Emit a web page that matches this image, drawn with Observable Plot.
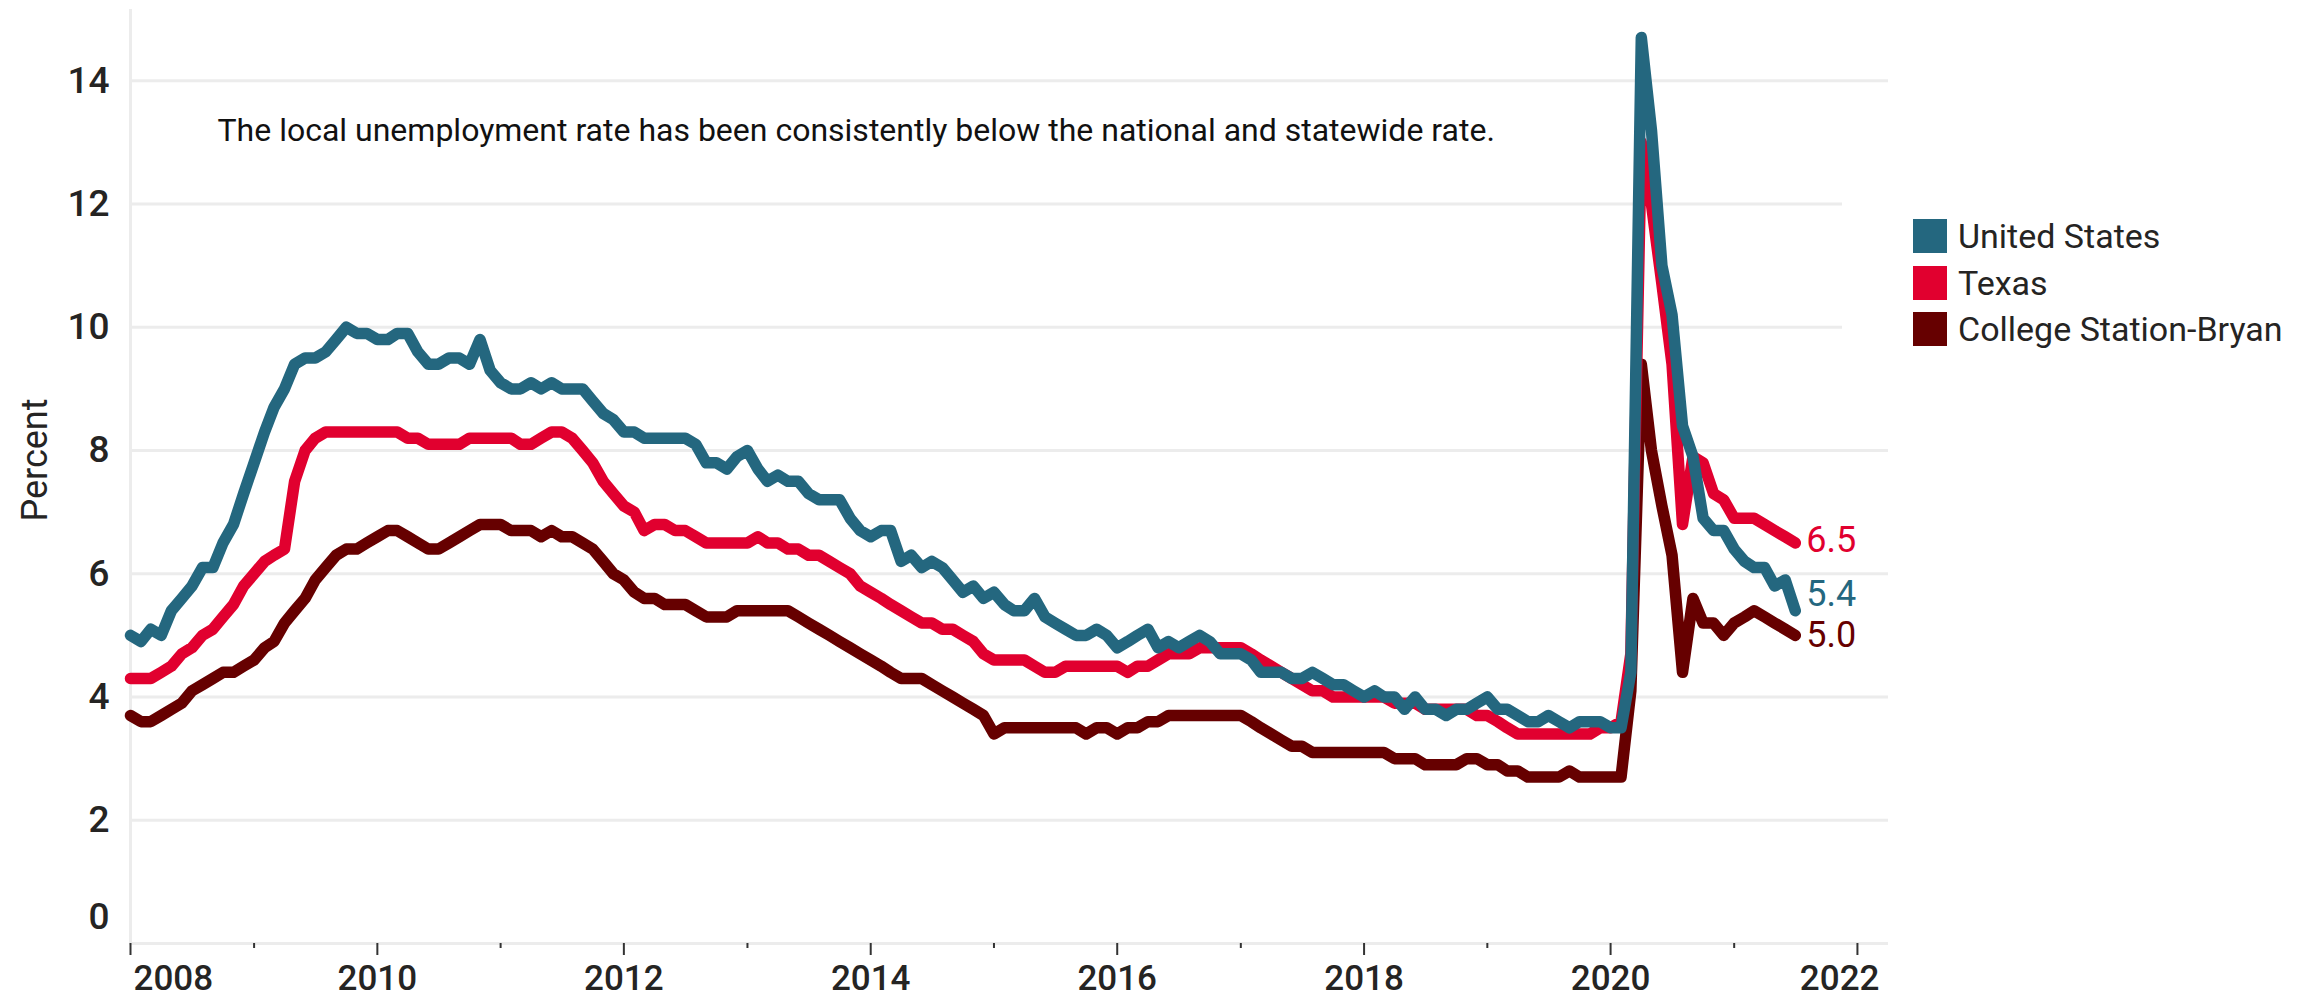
<!DOCTYPE html>
<html>
<head>
<meta charset="utf-8">
<script src="https://cdn.jsdelivr.net/npm/d3@7"></script>
<script src="https://cdn.jsdelivr.net/npm/@observablehq/plot@0.6"></script>
<style>
  html, body { margin: 0; padding: 0; background: #fff; }
  #wrap { position: relative; width: 2321px; height: 1002px; font-family: Roboto, "Noto Sans", sans-serif; }
  #legend { position: absolute; left: 1842px; top: 150px; width: 479px; height: 250px; background: #fff; }
  .row { position: absolute; left: 71px; display: flex; align-items: center; height: 34px; }
  .sw { width: 34px; height: 34px; margin-right: 11px; }
  .lab { font-size: 34px; color: #252423; white-space: nowrap; }
</style>
</head>
<body>
<div id="wrap"><div id="chart"></div><div id="legend"></div></div>
<script>
// ---- data (monthly, Jan 2008 – Jul 2021) ----
const startYear = 2008;
const seriesNames = ["United States", "Texas", "College Station-Bryan"];
const seriesColors = ["#24677F", "#E1002F", "#660000"];

const usRate = [
  5.0, 4.9, 5.1, 5.0, 5.4, 5.6, 5.8, 6.1, 6.1, 6.5, 6.8, 7.3,
  7.8, 8.3, 8.7, 9.0, 9.4, 9.5, 9.5, 9.6, 9.8, 10.0, 9.9, 9.9,
  9.8, 9.8, 9.9, 9.9, 9.6, 9.4, 9.4, 9.5, 9.5, 9.4, 9.8, 9.3,
  9.1, 9.0, 9.0, 9.1, 9.0, 9.1, 9.0, 9.0, 9.0, 8.8, 8.6, 8.5,
  8.3, 8.3, 8.2, 8.2, 8.2, 8.2, 8.2, 8.1, 7.8, 7.8, 7.7, 7.9,
  8.0, 7.7, 7.5, 7.6, 7.5, 7.5, 7.3, 7.2, 7.2, 7.2, 6.9, 6.7,
  6.6, 6.7, 6.7, 6.2, 6.3, 6.1, 6.2, 6.1, 5.9, 5.7, 5.8, 5.6,
  5.7, 5.5, 5.4, 5.4, 5.6, 5.3, 5.2, 5.1, 5.0, 5.0, 5.1, 5.0,
  4.8, 4.9, 5.0, 5.1, 4.8, 4.9, 4.8, 4.9, 5.0, 4.9, 4.7, 4.7,
  4.7, 4.6, 4.4, 4.4, 4.4, 4.3, 4.3, 4.4, 4.3, 4.2, 4.2, 4.1,
  4.0, 4.1, 4.0, 4.0, 3.8, 4.0, 3.8, 3.8, 3.7, 3.8, 3.8, 3.9,
  4.0, 3.8, 3.8, 3.7, 3.6, 3.6, 3.7, 3.6, 3.5, 3.6, 3.6, 3.6,
  3.5, 3.5, 4.4, 14.7, 13.2, 11.0, 10.2, 8.4, 7.9, 6.9, 6.7, 6.7,
  6.4, 6.2, 6.1, 6.1, 5.8, 5.9, 5.4
];

const texasRate = [
  4.3, 4.3, 4.3, 4.4, 4.5, 4.7, 4.8, 5.0, 5.1, 5.3, 5.5, 5.8,
  6.0, 6.2, 6.3, 6.4, 7.5, 8.0, 8.2, 8.3, 8.3, 8.3, 8.3, 8.3,
  8.3, 8.3, 8.3, 8.2, 8.2, 8.1, 8.1, 8.1, 8.1, 8.2, 8.2, 8.2,
  8.2, 8.2, 8.1, 8.1, 8.2, 8.3, 8.3, 8.2, 8.0, 7.8, 7.5, 7.3,
  7.1, 7.0, 6.7, 6.8, 6.8, 6.7, 6.7, 6.6, 6.5, 6.5, 6.5, 6.5,
  6.5, 6.6, 6.5, 6.5, 6.4, 6.4, 6.3, 6.3, 6.2, 6.1, 6.0, 5.8,
  5.7, 5.6, 5.5, 5.4, 5.3, 5.2, 5.2, 5.1, 5.1, 5.0, 4.9, 4.7,
  4.6, 4.6, 4.6, 4.6, 4.5, 4.4, 4.4, 4.5, 4.5, 4.5, 4.5, 4.5,
  4.5, 4.4, 4.5, 4.5, 4.6, 4.7, 4.7, 4.7, 4.8, 4.8, 4.8, 4.8,
  4.8, 4.7, 4.6, 4.5, 4.4, 4.3, 4.2, 4.1, 4.1, 4.0, 4.0, 4.0,
  4.0, 4.0, 4.0, 3.9, 3.9, 3.9, 3.8, 3.8, 3.8, 3.8, 3.8, 3.7,
  3.7, 3.6, 3.5, 3.4, 3.4, 3.4, 3.4, 3.4, 3.4, 3.4, 3.4, 3.5,
  3.5, 3.6, 4.7, 13.0, 12.0, 10.7, 9.4, 6.8, 7.9, 7.8, 7.3, 7.2,
  6.9, 6.9, 6.9, 6.8, 6.7, 6.6, 6.5
];

const csbRate = [
  3.7, 3.6, 3.6, 3.7, 3.8, 3.9, 4.1, 4.2, 4.3, 4.4, 4.4, 4.5,
  4.6, 4.8, 4.9, 5.2, 5.4, 5.6, 5.9, 6.1, 6.3, 6.4, 6.4, 6.5,
  6.6, 6.7, 6.7, 6.6, 6.5, 6.4, 6.4, 6.5, 6.6, 6.7, 6.8, 6.8,
  6.8, 6.7, 6.7, 6.7, 6.6, 6.7, 6.6, 6.6, 6.5, 6.4, 6.2, 6.0,
  5.9, 5.7, 5.6, 5.6, 5.5, 5.5, 5.5, 5.4, 5.3, 5.3, 5.3, 5.4,
  5.4, 5.4, 5.4, 5.4, 5.4, 5.3, 5.2, 5.1, 5.0, 4.9, 4.8, 4.7,
  4.6, 4.5, 4.4, 4.3, 4.3, 4.3, 4.2, 4.1, 4.0, 3.9, 3.8, 3.7,
  3.4, 3.5, 3.5, 3.5, 3.5, 3.5, 3.5, 3.5, 3.5, 3.4, 3.5, 3.5,
  3.4, 3.5, 3.5, 3.6, 3.6, 3.7, 3.7, 3.7, 3.7, 3.7, 3.7, 3.7,
  3.7, 3.6, 3.5, 3.4, 3.3, 3.2, 3.2, 3.1, 3.1, 3.1, 3.1, 3.1,
  3.1, 3.1, 3.1, 3.0, 3.0, 3.0, 2.9, 2.9, 2.9, 2.9, 3.0, 3.0,
  2.9, 2.9, 2.8, 2.8, 2.7, 2.7, 2.7, 2.7, 2.8, 2.7, 2.7, 2.7,
  2.7, 2.7, 4.1, 9.4, 8.0, 7.1, 6.3, 4.4, 5.6, 5.2, 5.2, 5.0,
  5.2, 5.3, 5.4, 5.3, 5.2, 5.1, 5.0
];

const yTicks = [0, 2, 4, 6, 8, 10, 12, 14];
const majorYears = [2008, 2010, 2012, 2014, 2016, 2018, 2020, 2022];
const minorYears = [2009, 2011, 2013, 2015, 2017, 2019, 2021];
const annotation = "The local unemployment rate has been consistently below the national and statewide rate.";
const yLabel = "Percent";

// ---- build table ----
const monthDate = i => new Date(Date.UTC(startYear, i, 1));
const yearDate = y => new Date(Date.UTC(y, 0, 1));
const bySeries = {
  "United States": usRate,
  "Texas": texasRate,
  "College Station-Bryan": csbRate
};
// draw order: College Station-Bryan, Texas, United States (on top)
const drawOrder = ["College Station-Bryan", "Texas", "United States"];
const rows = drawOrder.flatMap(s => bySeries[s].map((v, i) => ({series: s, date: monthDate(i), value: v})));
const rowsOf = s => rows.filter(d => d.series === s);

const fmtYear = d3.utcFormat("%Y");
const gridColor = "#ececec";
const textColor = "#252423";
const colorOf = s => seriesColors[seriesNames.indexOf(s)];

const endLabel = (s, dy) => Plot.text(rowsOf(s), Plot.selectLast({
  x: "date", y: "value", text: d => d.value.toFixed(1),
  fill: colorOf(s), textAnchor: "start", lineAnchor: "middle", dx: 11, dy, fontSize: 36
}));

const yTickText = {tickSize: 0, tickPadding: 21, fontSize: 37, fontWeight: 500, fill: textColor, label: null, tickFormat: d => String(d)};
const xLabelText = {x: d => d, text: fmtYear, frameAnchor: "bottom", lineAnchor: "middle", dy: 35, fontSize: 35, fontWeight: 500, fill: textColor};

const chart = Plot.plot({
  width: 2321,
  height: 1002,
  marginLeft: 130,
  marginRight: 433,
  marginTop: 10,
  marginBottom: 59,
  style: {fontFamily: "Roboto, 'Noto Sans', sans-serif", background: "#fff", color: textColor},
  x: {type: "utc", domain: [yearDate(2008), new Date(Date.UTC(2022, 3, 3))], label: null},
  y: {domain: [0, 15.14], label: null},
  color: {domain: seriesNames, range: seriesColors},
  marks: [
    Plot.gridY(yTicks, {stroke: gridColor, strokeWidth: 3, strokeOpacity: 1}),
    Plot.frame({anchor: "left", stroke: gridColor, strokeWidth: 3}),
    Plot.axisY(yTicks.slice(1), yTickText),
    Plot.axisY(yTicks.slice(0, 1), {...yTickText, dy: -26}),
    Plot.axisX(majorYears.map(yearDate), {tickSize: 12, tickFormat: () => "", stroke: "#333", strokeWidth: 2, label: null}),
    Plot.axisX(minorYears.map(yearDate), {tickSize: 5, tickFormat: () => "", stroke: "#333", strokeWidth: 2, label: null}),
    Plot.text(majorYears.slice(1, -1).map(yearDate), xLabelText),
    Plot.text(majorYears.slice(0, 1).map(yearDate), {...xLabelText, dx: 3, textAnchor: "start"}),
    Plot.text(majorYears.slice(-1).map(yearDate), {...xLabelText, dx: 22, textAnchor: "end"}),
    Plot.text([yLabel], {frameAnchor: "left", textAnchor: "middle", rotate: -90, dx: -95, dy: -17, fontSize: 36, fill: textColor}),
    Plot.text([annotation], {frameAnchor: "top-left", textAnchor: "start", lineAnchor: "middle", dx: 87, dy: 120, fontSize: 32, fill: "#111"}),
    Plot.line(rows, {x: "date", y: "value", z: "series", stroke: "series", strokeWidth: 11.5, strokeLinejoin: "round", strokeLinecap: "round"}),
    endLabel("Texas", -2),
    endLabel("United States", -16),
    endLabel("College Station-Bryan", 0)
  ]
});
document.getElementById("chart").appendChild(chart);

// ---- legend (right side) ----
const legend = document.getElementById("legend");
seriesNames.forEach((name, i) => {
  const row = document.createElement("div");
  row.className = "row";
  row.style.top = (69 + i * 46.5) + "px";
  const sw = document.createElement("div");
  sw.className = "sw";
  sw.style.background = seriesColors[i];
  const lab = document.createElement("span");
  lab.className = "lab";
  lab.textContent = name;
  row.appendChild(sw);
  row.appendChild(lab);
  legend.appendChild(row);
});
</script>
</body>
</html>
